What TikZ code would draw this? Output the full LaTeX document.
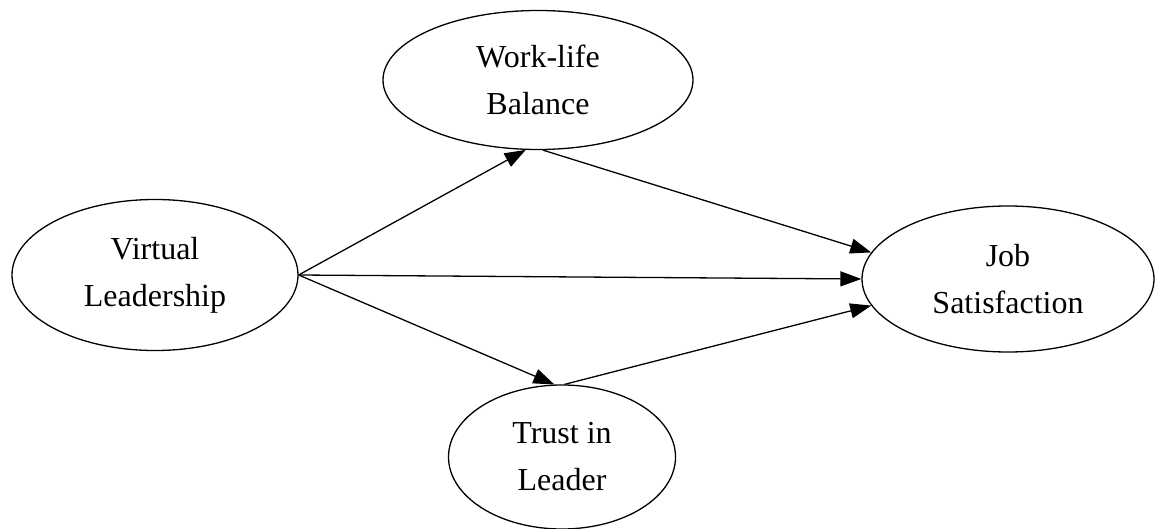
\documentclass[tikz,border=0pt]{standalone}
\usepackage{fontspec}
\setmainfont{Liberation Serif}
\usepackage{tikz}
\usetikzlibrary{shapes.geometric}
\usetikzlibrary{arrows.meta}
\tikzstyle{construit}=[ellipse,draw,line width=1.3pt,text=black,inner sep=0pt,
align=center,font=\fontsize{32}{47}\selectfont]
\tikzstyle{suite}=[-{Triangle[length=21pt,width=15pt]},line width=1.3pt]

\begin{document}
\begin{tikzpicture}[x=1pt,y=-1pt]
\useasboundingbox (0,0) rectangle (1158,529);
\node[construit,minimum width=310pt,minimum height=139pt] (wlb) at (538,80) {Work-life\\Balance};
\node[construit,minimum width=286pt,minimum height=151pt] (vl) at (155,275) {Virtual\\Leadership};
\node[construit,minimum width=292pt,minimum height=146pt] (js) at (1008,279) {Job\\Satisfaction};
\node[construit,minimum width=227pt,minimum height=144pt] (tl) at (562,457) {Trust in\\Leader};
%Placementdesfleches
\draw[suite] (vl.east) -- (wlb.260);
\draw[suite] (wlb.274) -- (js.169);
\draw[suite] (vl.east) -- (js.180);
\draw[suite] (vl.east) -- (tl.96);
\draw[suite] (tl.88) -- (js.191);
\end{tikzpicture}
\end{document}
